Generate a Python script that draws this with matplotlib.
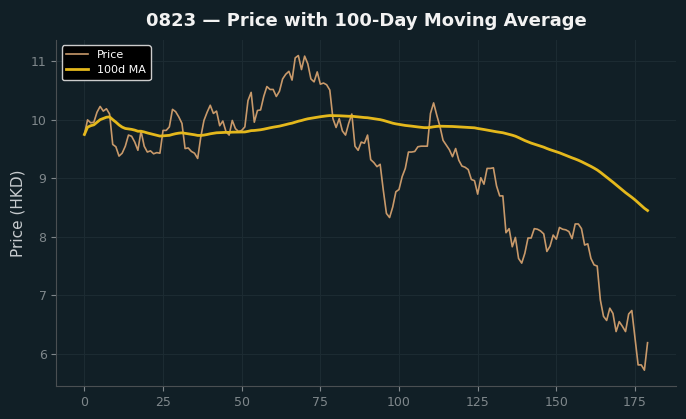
import matplotlib
matplotlib.use("Agg")
import matplotlib.pyplot as plt
import pandas as pd

# daily closing price (day 0 .. 179)
price = [
    9.75, 10.00, 9.95, 9.96, 10.13, 10.23, 10.15, 10.19, 10.10, 9.58,
    9.54, 9.38, 9.43, 9.55, 9.74, 9.72, 9.62, 9.48, 9.81, 9.55,
    9.45, 9.47, 9.42, 9.44, 9.43, 9.82, 9.82, 9.88, 10.18, 10.14,
    10.05, 9.94, 9.51, 9.52, 9.46, 9.43, 9.34, 9.71, 9.99, 10.13,
    10.25, 10.11, 10.15, 9.90, 9.98, 9.80, 9.74, 9.99, 9.85, 9.80,
    9.82, 9.88, 10.33, 10.47, 9.96, 10.16, 10.17, 10.40, 10.57, 10.52,
    10.52, 10.40, 10.49, 10.70, 10.78, 10.83, 10.68, 11.06, 11.10, 10.86,
    11.09, 10.96, 10.70, 10.65, 10.82, 10.61, 10.63, 10.60, 10.51, 10.02,
    9.87, 10.02, 9.81, 9.74, 9.94, 10.10, 9.55, 9.48, 9.62, 9.60,
    9.74, 9.32, 9.27, 9.20, 9.24, 8.80, 8.40, 8.33, 8.51, 8.77,
    8.81, 9.03, 9.17, 9.45, 9.45, 9.46, 9.54, 9.55, 9.55, 9.55,
    10.11, 10.29, 10.08, 9.89, 9.65, 9.57, 9.49, 9.37, 9.51, 9.31,
    9.21, 9.19, 9.15, 8.98, 8.96, 8.73, 9.01, 8.90, 9.17, 9.17,
    9.18, 8.87, 8.70, 8.70, 8.07, 8.14, 7.83, 7.99, 7.63, 7.55,
    7.72, 7.98, 7.98, 8.14, 8.13, 8.10, 8.05, 7.75, 7.84, 8.03,
    7.96, 8.16, 8.13, 8.12, 8.09, 7.97, 8.22, 8.22, 8.14, 7.86,
    7.88, 7.63, 7.52, 7.50, 6.92, 6.64, 6.57, 6.78, 6.69, 6.38,
    6.55, 6.47, 6.38, 6.68, 6.74, 6.28, 5.81, 5.81, 5.72, 6.19,
]
ticker = "0823"
window = 100

days = list(range(len(price)))
ma = pd.Series(price).rolling(window, min_periods=1).mean()

bg = "#111f26"
fig, ax = plt.subplots(figsize=(6.86, 4.19), dpi=100)
fig.patch.set_facecolor(bg)
ax.set_facecolor(bg)
fig.subplots_adjust(left=0.082, right=0.985, top=0.905, bottom=0.079)

ax.plot(days, price, color="#c8996a", linewidth=1.2, label="Price")
ax.plot(days, ma, color="#e4b81c", linewidth=2.0, label=f"{window}d MA")

ax.set_title(f"{ticker} \u2014 Price with {window}-Day Moving Average",
             color="#f2f2f2", fontsize=13, fontweight="bold", pad=10)
ax.set_ylabel("Price (HKD)", color="#c8cccf", fontsize=11)

ax.set_xticks([0, 25, 50, 75, 100, 125, 150, 175])
ax.set_yticks([6, 7, 8, 9, 10, 11])
ax.tick_params(colors="#7f878b", labelsize=9)
ax.grid(True, color="#1c2b32", linewidth=0.8)
for s in ["top", "right"]:
    ax.spines[s].set_visible(False)
for s in ["left", "bottom"]:
    ax.spines[s].set_color("#4a4f52")

leg = ax.legend(loc="upper left", fontsize=8, facecolor="black",
                edgecolor="#cccccc", labelcolor="white", framealpha=1)

fig.savefig("out.png", facecolor=bg)
